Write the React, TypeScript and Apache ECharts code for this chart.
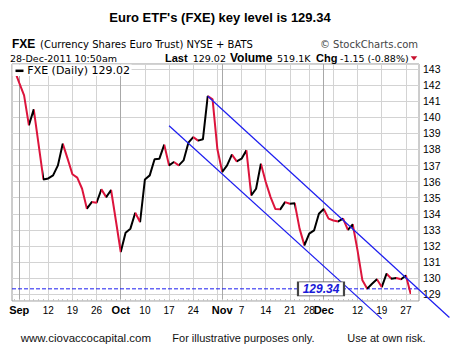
import React, { useEffect, useRef } from 'react';
import * as echarts from 'echarts';

// ---------------- data ----------------
const tradingDays: string[] = [
  '2011-08-31', '2011-09-01', '2011-09-02', '2011-09-06', '2011-09-07', '2011-09-08', '2011-09-09',
  '2011-09-12', '2011-09-13', '2011-09-14', '2011-09-15', '2011-09-16',
  '2011-09-19', '2011-09-20', '2011-09-21', '2011-09-22', '2011-09-23',
  '2011-09-26', '2011-09-27', '2011-09-28', '2011-09-29', '2011-09-30',
  '2011-10-03', '2011-10-04', '2011-10-05', '2011-10-06', '2011-10-07',
  '2011-10-10', '2011-10-11', '2011-10-12', '2011-10-13', '2011-10-14',
  '2011-10-17', '2011-10-18', '2011-10-19', '2011-10-20', '2011-10-21',
  '2011-10-24', '2011-10-25', '2011-10-26', '2011-10-27', '2011-10-28',
  '2011-10-31', '2011-11-01', '2011-11-02', '2011-11-03', '2011-11-04',
  '2011-11-07', '2011-11-08', '2011-11-09', '2011-11-10', '2011-11-11',
  '2011-11-14', '2011-11-15', '2011-11-16', '2011-11-17', '2011-11-18',
  '2011-11-21', '2011-11-22', '2011-11-23', '2011-11-25',
  '2011-11-28', '2011-11-29', '2011-11-30', '2011-12-01', '2011-12-02',
  '2011-12-05', '2011-12-06', '2011-12-07', '2011-12-08', '2011-12-09',
  '2011-12-12', '2011-12-13', '2011-12-14', '2011-12-15', '2011-12-16',
  '2011-12-19', '2011-12-20', '2011-12-21', '2011-12-22', '2011-12-23',
  '2011-12-27', '2011-12-28',
];

const closes: number[] = [
  142.95, 142.14, 141.36, 139.5, 140.49, 138.32, 136.14,
  136.2, 136.39, 137.01, 138.36, 137.43,
  136.46, 136.25, 135.56, 134.32, 134.73,
  134.69, 135.52, 135.04, 135.48, 133.57,
  131.63, 132.83, 133.08, 134.07, 133.49,
  136.14, 136.39, 137.39, 137.43, 138.3,
  137.01, 137.22, 137.01, 137.32, 138.42,
  138.77, 138.55, 138.63, 141.32, 141.11,
  138.01, 136.6, 137.01, 137.68, 137.26,
  137.43, 137.95, 135.15, 135.56, 137.12,
  135.98, 135.04, 134.3, 134.28, 134.73,
  134.63, 134.66, 133.08, 132.04,
  132.77, 132.97, 134.01, 134.3, 133.7,
  133.59, 133.53, 133.7, 133.0, 133.35,
  131.71, 129.87, 129.35, 129.66, 129.93,
  129.45, 130.28, 129.97, 130.01, 129.93,
  130.17, 129.02,
];

const labeledDays: string[] = [
  '2011-09-01', '2011-09-12', '2011-09-19', '2011-09-26',
  '2011-10-03', '2011-10-10', '2011-10-17', '2011-10-24',
  '2011-11-01', '2011-11-07', '2011-11-14', '2011-11-21', '2011-11-28',
  '2011-12-01', '2011-12-12', '2011-12-19', '2011-12-27',
];

const monthNames = ['Jan', 'Feb', 'Mar', 'Apr', 'May', 'Jun', 'Jul', 'Aug', 'Sep', 'Oct', 'Nov', 'Dec'];

const keyLevel = 129.34;
// channel lines: [trading-day index, price]
const upperChannel: number[][] = [[40, 141.31], [90, 127.56]];
const lowerChannel: number[][] = [[32, 139.47], [76, 127.47]];
const keyLabelAt = 63.43;

const yMin = 128.584;
const yMax = 143.311;

// ---------------- styles / layout ----------------
const RED = '#dc143c';
const BLACK = '#000000';
const BLUE = '#1c1cf0';
const FRAME_LEFT = 12;
const FRAME_TOP = 64;
const FRAME_W = 407;
const FRAME_H = 237;
const X_MIN = -0.5;
const X_MAX = 83.71;
const STEP = FRAME_W / (X_MAX - X_MIN);

const parse = (s: string) => new Date(s + 'T00:00:00Z');

export default function App() {
  const ref = useRef<HTMLDivElement>(null);

  useEffect(() => {
    const chart = echarts.init(ref.current as HTMLDivElement, null, { renderer: 'svg' });

    const idxOf: Record<string, number> = {};
    tradingDays.forEach((d, i) => (idxOf[d] = i));
    const isMonthStart = (i: number) =>
      i > 0 && parse(tradingDays[i]).getUTCMonth() !== parse(tradingDays[i - 1]).getUTCMonth();
    const isWeekStart = (i: number) =>
      i > 0 && parse(tradingDays[i]).getUTCDay() < parse(tradingDays[i - 1]).getUTCDay();
    const labeledSet = new Set(labeledDays);

    // direction-coloured segments
    const pieces: any[] = [];
    for (let i = 0; i < closes.length - 1; i++) {
      const color = closes[i + 1] < closes[i] ? RED : BLACK;
      const last = pieces[pieces.length - 1];
      if (last && last.color === color) last.lt = i + 1;
      else pieces.push({ gte: i, lt: i + 1, color });
    }
    const lastPiece = pieces[pieces.length - 1];
    lastPiece.lte = lastPiece.lt;
    delete lastPiece.lt;

    const txt = (x: number, y: number, text: string, o: any = {}) => ({
      type: 'text',
      x,
      y,
      z: 100,
      silent: true,
      style: {
        text,
        fill: o.fill || '#000',
        fontSize: o.fontSize || 10,
        fontFamily: o.fontFamily || 'DejaVu Sans',
        fontWeight: o.fontWeight || 'normal',
        align: o.align || 'left',
        textAlign: o.align || 'left',
        verticalAlign: 'middle',
        textVerticalAlign: 'middle',
      },
    });

    const option: any = {
      animation: false,
      backgroundColor: '#ffffff',
      grid: [
        {
          left: FRAME_LEFT, top: FRAME_TOP, width: FRAME_W, height: FRAME_H,
          show: true, borderColor: '#9a9a9a', borderWidth: 1, backgroundColor: '#ffffff',
        },
        {
          left: FRAME_LEFT + (0 - X_MIN) * STEP, top: FRAME_TOP,
          width: (tradingDays.length - 1) * STEP, height: FRAME_H,
        },
      ],
      xAxis: [
        { type: 'value', gridIndex: 0, min: X_MIN, max: X_MAX, show: false },
        {
          type: 'category', gridIndex: 1, data: tradingDays, boundaryGap: false, position: 'bottom',
          axisLine: { show: false },
          axisTick: { show: true, inside: true, interval: 0, length: 2, lineStyle: { color: '#c4c4c4' } },
          axisLabel: {
            interval: (_i: number, v: string) => labeledSet.has(v),
            margin: 3,
            formatter: (v: string) => {
              const i = idxOf[v];
              const d = parse(v);
              if (isMonthStart(i)) return `{m|${monthNames[d.getUTCMonth()]}}`;
              return `{d|${d.getUTCDate()}}`;
            },
            rich: {
              m: { fontFamily: 'Liberation Sans', fontWeight: 'bold', fontSize: 11, color: '#000', lineHeight: 12 },
              d: { fontFamily: 'Liberation Sans', fontSize: 10, color: '#000', lineHeight: 12 },
            },
          },
          splitLine: {
            show: true,
            interval: (i: number) => isWeekStart(i),
            lineStyle: { color: '#d3d3d3', width: 1 },
          },
        },
        {
          type: 'category', gridIndex: 1, data: tradingDays, boundaryGap: false, position: 'top',
          axisLine: { show: false }, axisTick: { show: false }, axisLabel: { show: false },
          splitLine: {
            show: true,
            interval: (i: number) => isMonthStart(i),
            lineStyle: { color: '#a8a8a8', width: 1 },
          },
        },
      ],
      yAxis: [
        {
          type: 'value', gridIndex: 0, min: yMin, max: yMax, position: 'right',
          splitNumber: 15, minInterval: 1, maxInterval: 1,
          axisLine: { show: false }, axisTick: { show: false },
          axisLabel: {
            margin: 4, fontFamily: 'Liberation Sans', fontSize: 10.5, color: '#000',
            showMinLabel: true, showMaxLabel: true,
            formatter: (v: number) => (Math.abs(v - Math.round(v)) < 1e-6 ? String(Math.round(v)) : ''),
          },
          splitLine: { show: true, lineStyle: { color: '#d3d3d3', width: 1 } },
        },
        { type: 'value', gridIndex: 1, min: yMin, max: yMax, show: false },
      ],
      visualMap: [
        { type: 'piecewise', show: false, dimension: 0, seriesIndex: 0, pieces },
      ],
      series: [
        {
          name: 'FXE', type: 'line', xAxisIndex: 1, yAxisIndex: 1, data: closes,
          symbol: 'none', showSymbol: false, silent: true, z: 3,
          lineStyle: { width: 2 },
        },
        {
          type: 'line', xAxisIndex: 0, yAxisIndex: 0, silent: true, z: 2,
          data: [[X_MIN, keyLevel], [X_MAX, keyLevel]],
          symbol: 'none', showSymbol: false,
          lineStyle: { color: BLUE, width: 1, type: [4, 2] },
          markPoint: {
            silent: true,
            data: [
              {
                coord: [keyLabelAt, keyLevel],
                symbol: 'rect',
                symbolSize: [46, 14],
                itemStyle: { color: '#ffffff', borderColor: '#444', borderWidth: 1.2 },
                label: {
                  show: true, position: 'inside', formatter: String(keyLevel),
                  color: '#1a1ad8', fontWeight: 'bold', fontStyle: 'italic',
                  fontSize: 12, fontFamily: 'Liberation Sans',
                },
              },
            ],
          },
        },
        {
          type: 'lines', coordinateSystem: 'cartesian2d', xAxisIndex: 0, yAxisIndex: 0,
          clip: false, silent: true, z: 4,
          data: [{ coords: upperChannel }, { coords: lowerChannel }],
          lineStyle: { color: BLUE, width: 1.2, opacity: 1 },
        },
      ],
      graphic: [
        txt(220, 17.5, "Euro ETF's (FXE) key level is 129.34", { fontFamily: 'Liberation Sans', fontWeight: 'bold', fontSize: 13, align: 'center' }),
        txt(12, 44, 'FXE', { fontFamily: 'Liberation Sans', fontWeight: 'bold', fontSize: 12 }),
        txt(40, 44.5, '(Currency Shares Euro Trust) NYSE + BATS', { fontSize: 10 }),
        txt(418, 44.5, '© StockCharts.com', { fontSize: 10, fill: '#444', align: 'right' }),
        txt(10, 58.5, '28-Dec-2011 10:50am', { fontSize: 9.5 }),
        txt(165, 57.9, 'Last', { fontFamily: 'Liberation Sans', fontWeight: 'bold', fontSize: 11 }),
        txt(192.7, 58.5, '129.02', { fontSize: 9.5 }),
        txt(230, 57.9, 'Volume', { fontFamily: 'Liberation Sans', fontWeight: 'bold', fontSize: 12 }),
        txt(277, 58.5, '519.1K', { fontSize: 9.5 }),
        txt(316, 57.9, 'Chg', { fontFamily: 'Liberation Sans', fontWeight: 'bold', fontSize: 11 }),
        txt(340, 58.5, '-1.15 (-0.88%)', { fontSize: 9.5 }),
        {
          type: 'polygon', z: 100, silent: true,
          shape: { points: [[410.7, 56.2], [417.3, 56.2], [414, 60.5]] },
          style: { fill: '#c8102e' },
        },
        {
          type: 'rect', z: 99, silent: true,
          shape: { x: 12.6, y: 64.6, width: 119, height: 11.4 },
          style: { fill: '#ffffff' },
        },
        {
          type: 'line', z: 100, silent: true,
          shape: { x1: 15.5, y1: 70.8, x2: 23.5, y2: 70.8 },
          style: { stroke: '#000', lineWidth: 2.5 },
        },
        txt(27.3, 70.8, 'FXE (Daily) 129.02', { fontSize: 11 }),
        txt(20.7, 337.5, 'www.ciovaccocapital.com', { fontFamily: 'Liberation Sans', fontSize: 11.5, fill: '#111' }),
        txt(172.3, 337.5, 'For illustrative purposes only.', { fontFamily: 'Liberation Sans', fontSize: 11, fill: '#111' }),
        txt(347.3, 337.5, 'Use at own risk.', { fontFamily: 'Liberation Sans', fontSize: 11, fill: '#111' }),
      ],
    };

    chart.setOption(option);
    return () => chart.dispose();
  }, []);

  return (
    <div
      ref={ref}
      style={{ position: 'fixed', left: 0, top: 0, width: 451, height: 359 }}
    />
  );
}
